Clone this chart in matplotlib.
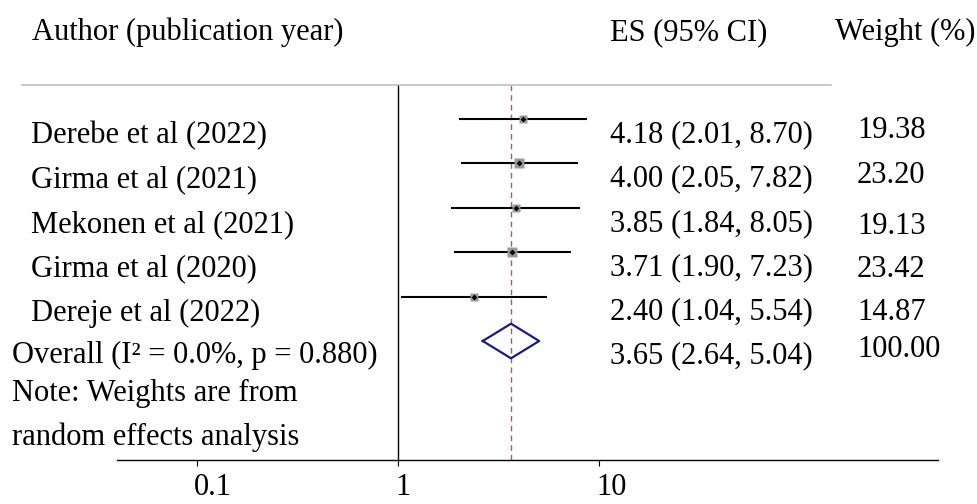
"""
Forest plot (random effects meta-analysis)
出力: out.png
"""

import numpy as np
import matplotlib.pyplot as plt
import matplotlib.transforms as mtransforms
from matplotlib.lines import Line2D

plt.rcParams['font.family'] = ['Liberation Serif', 'DejaVu Serif']

# ── データ ─────────────────────────────────────────────
studies = ["Derebe et al (2022)", "Girma et al (2021)", "Mekonen et al (2021)",
           "Girma et al (2020)", "Dereje et al (2022)"]
es = [4.18, 4.00, 3.85, 3.71, 2.40]
ci_low = [2.01, 2.05, 1.84, 1.90, 1.04]
ci_high = [8.70, 7.82, 8.05, 7.23, 5.54]
weights = [19.38, 23.20, 19.13, 23.42, 14.87]

overall_label = "Overall (I² = 0.0%, p = 0.880)"
overall_es, overall_low, overall_high = 3.65, 2.64, 5.04
overall_weight = 100.00
note_lines = ["Note: Weights are from", "random effects analysis"]

x_ticks = [0.1, 1, 10]
x_ticklabels = ["0.1", "1", "10"]

# ── レイアウト (px) ────────────────────────────────────
W, H = 977, 504
FS = 22
AX_LEFT, AX_RIGHT = 117, 938
AX_TOP, AX_BOTTOM = 85, 460
ROW0_PX, ROW_PX = 119, 44.4
X_ONE_PX, DECADE_PX = 398, 201

LABEL_X = 31
OVERALL_X = 12
ES_X = 610
WT_X = 857
LABEL_DY = 24
ES_DY = 23
WT_DY = [19, 20, 26, 25, 23, 16]

COL_MARKER = "#9a9a9a"
COL_DIAMOND = "#1c1c78"
COL_DASH = "#b8585e"
COL_GREY = "#c0c0c0"

fig = plt.figure(figsize=(W / 100, H / 100), dpi=100)
ax = fig.add_axes([AX_LEFT / W, 1 - AX_BOTTOM / H,
                   (AX_RIGHT - AX_LEFT) / W, (AX_BOTTOM - AX_TOP) / H])

ax.set_xscale("log")
ax.set_xlim(10 ** ((AX_LEFT - X_ONE_PX) / DECADE_PX),
            10 ** ((AX_RIGHT - X_ONE_PX) / DECADE_PX))
ax.set_ylim((AX_BOTTOM - ROW0_PX) / ROW_PX, (AX_TOP - ROW0_PX) / ROW_PX)

rows = np.arange(len(studies))
overall_row = len(studies)

# CI の線とマーカー
ax.hlines(rows, ci_low, ci_high, color="black", lw=1.5, zorder=3)
for r, e, w in zip(rows, es, weights):
    ax.plot(e, r, marker="s", ms=1.35 * np.sqrt(w), color=COL_MARKER,
            mec="none", zorder=4)
    ax.plot(e, r, marker="D", ms=3.0, color="black", mew=0, zorder=5)

# 全体のひし形
dh = 0.39
ax.plot([overall_low, overall_es, overall_high, overall_es, overall_low],
        [overall_row, overall_row - dh, overall_row, overall_row + dh, overall_row],
        color=COL_DIAMOND, lw=1.6, zorder=4)

ax.axvline(1, color="black", lw=1.0, zorder=2)
ax.axvline(overall_es, color=COL_DASH, lw=1.0, ls=(0, (4, 3)), zorder=2)

# 軸
for side in ["top", "left", "right"]:
    ax.spines[side].set_visible(False)
ax.spines["bottom"].set_linewidth(1.0)
ax.set_yticks([])
ax.set_xticks(x_ticks)
ax.set_xticklabels(x_ticklabels, fontsize=FS)
ax.xaxis.set_minor_locator(plt.NullLocator())
ax.tick_params(axis="x", length=4.5, width=0.8, pad=5)
shift = mtransforms.ScaledTranslation(-3 / 100, 0, fig.dpi_scale_trans)
for lab in ax.get_xticklabels():
    lab.set_horizontalalignment("left")
    lab.set_transform(lab.get_transform() + shift)

# 上部の灰色の線
fig.add_artist(Line2D([22 / W, 831 / W], [1 - AX_TOP / H, 1 - AX_TOP / H],
                      color=COL_GREY, lw=1.2))

# ── テキスト ─────────────────────────────────────────
blend = mtransforms.blended_transform_factory(fig.transFigure, ax.transData)


def row_text(x_px, row, text, dy):
    tr = mtransforms.offset_copy(blend, fig=fig, y=-dy, units="dots")
    ax.text(x_px / W, row, text, transform=tr, ha="left", va="baseline",
            fontsize=FS, clip_on=False)


def fig_text(x_px, y_px, text):
    fig.text(x_px / W, 1 - y_px / H, text, ha="left", va="baseline", fontsize=FS)


fig_text(32, 40, "Author (publication year)")
fig_text(610, 40, "ES (95% CI)")
fig_text(835, 40, "Weight (%)")

for r, name, e, lo, hi, w in zip(rows, studies, es, ci_low, ci_high, weights):
    row_text(LABEL_X, r, name, LABEL_DY)
    row_text(ES_X, r, f"{e:.2f} ({lo:.2f}, {hi:.2f})", ES_DY)
    row_text(WT_X, r, f"{w:.2f}", WT_DY[r])

row_text(OVERALL_X, overall_row, overall_label, 22)
row_text(ES_X, overall_row,
         f"{overall_es:.2f} ({overall_low:.2f}, {overall_high:.2f})", 22)
row_text(WT_X, overall_row, f"{overall_weight:.2f}", WT_DY[overall_row])

fig_text(OVERALL_X, 401, note_lines[0])
fig_text(OVERALL_X, 445, note_lines[1])

fig.savefig("out.png", dpi=100)
